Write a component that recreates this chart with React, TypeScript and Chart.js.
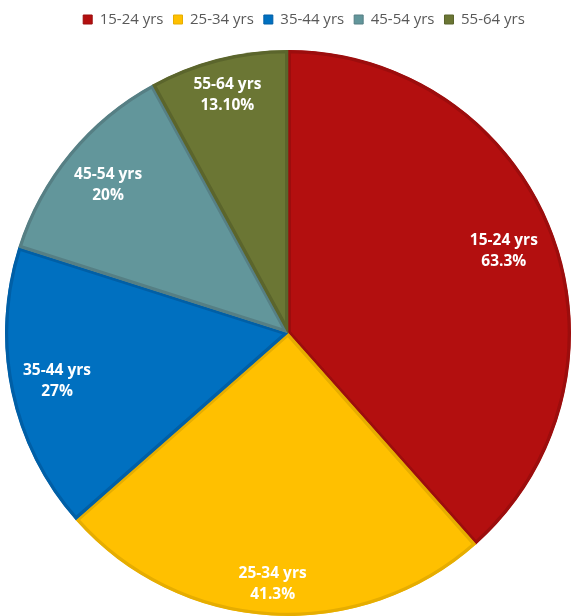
import React, { useEffect, useRef } from "react";
import { Chart, registerables } from "chart.js";

Chart.register(...registerables);

const categories = ["15-24 yrs", "25-34 yrs", "35-44 yrs", "45-54 yrs", "55-64 yrs"];
const values = [63.3, 41.3, 27, 20, 13.1];
const valueLabels = ["63.3%", "41.3%", "27%", "20%", "13.10%"];
const fillColors = ["#B30F0F", "#FFC000", "#0070C0", "#62969B", "#6B7634"];
const edgeColors = ["#9C0D0D", "#E6AD00", "#005FA6", "#567F84", "#5B652C"];
const labelRadiusFraction = [0.816, 0.89, 0.834, 0.824, 0.866];

const FONT = "'Open Sans', 'DejaVu Sans', sans-serif";

const sliceLabels = {
  id: "sliceLabels",
  afterDatasetsDraw(chart: any) {
    const meta = chart.getDatasetMeta(0);
    const ctx = chart.ctx;
    ctx.save();
    ctx.fillStyle = "#FFFFFF";
    ctx.font = `bold 15.5px ${FONT}`;
    ctx.textAlign = "center";
    ctx.textBaseline = "middle";
    meta.data.forEach((arc: any, i: number) => {
      const { x, y, startAngle, endAngle, outerRadius } = arc.getProps(
        ["x", "y", "startAngle", "endAngle", "outerRadius"],
        true
      );
      const mid = (startAngle + endAngle) / 2;
      const r = outerRadius * labelRadiusFraction[i];
      const cx = x + Math.cos(mid) * r;
      const cy = y + Math.sin(mid) * r;
      ctx.fillText(categories[i], cx, cy - 10.5);
      ctx.fillText(valueLabels[i], cx, cy + 10.5);
    });
    ctx.restore();
  },
};

const shiftLegend = {
  id: "shiftLegend",
  afterUpdate(chart: any) {
    const l = chart.legend;
    if (!l) return;
    l.left += 16;
    l.right += 16;
    l.top -= 13;
    l.bottom -= 13;
  },
};

export default function App() {
  const ref = useRef<HTMLCanvasElement | null>(null);
  useEffect(() => {
    document.body.style.margin = "0";
    const canvas = ref.current!;
    const chart = new Chart(canvas, {
      type: "pie",
      data: {
        labels: categories,
        datasets: [
          {
            data: values,
            backgroundColor: fillColors,
            borderColor: edgeColors,
            borderWidth: 3,
            borderAlign: "inner",
          },
        ],
      },
      options: {
        responsive: false,
        animation: false,
        devicePixelRatio: 1,
        layout: { padding: { left: 5, right: 0, top: 15, bottom: 0 } },
        plugins: {
          tooltip: { enabled: false },
          legend: {
            position: "top",
            labels: {
              boxWidth: 9,
              boxHeight: 9,
              padding: 10,
              color: "#595959",
              font: { family: FONT, size: 15 },
              generateLabels: (c: any) => {
                const items = (Chart as any).overrides.pie.plugins.legend.labels.generateLabels(c);
                items.forEach((it: any) => (it.lineWidth = 1));
                return items;
              },
            },
          },
        },
      },
      plugins: [sliceLabels, shiftLegend],
    });
    return () => chart.destroy();
  }, []);
  return (
    <div style={{ width: 571, height: 616 }}>
      <canvas ref={ref} width={571} height={616} style={{ display: "block" }} />
    </div>
  );
}
